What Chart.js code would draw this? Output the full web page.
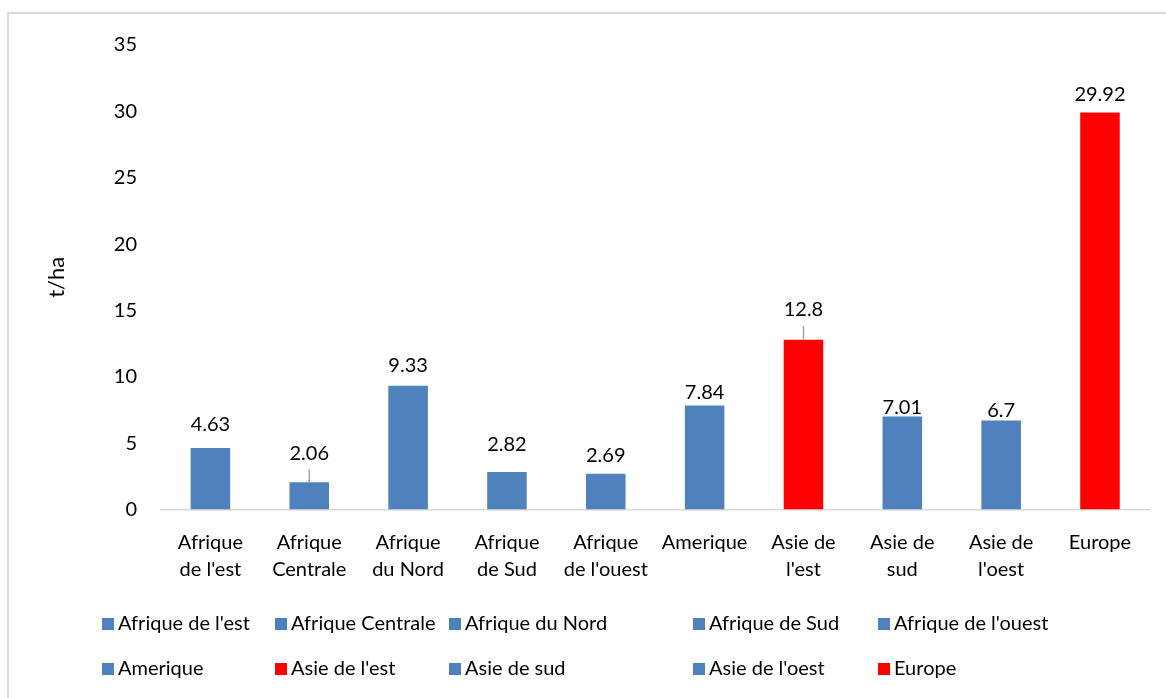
<!DOCTYPE html>
<html>
<head>
<meta charset="utf-8">
<script src="https://cdn.jsdelivr.net/npm/chart.js@4"></script>
<style>
  html, body { margin: 0; padding: 0; background: #fff; }
  #wrap { position: relative; width: 1166px; height: 698px; overflow: hidden; }
  #frame { position: absolute; left: 7px; top: 12px; width: 1200px; height: 720px; border: 2px solid #d9d9d9; }
  canvas { position: absolute; left: 0; top: 0; }
</style>
</head>
<body>
<div id="wrap">
  <div id="frame"></div>
  <canvas id="yieldChart" width="1166" height="698"></canvas>
</div>
<script>
// regions (legend names) and their wrapped axis labels
const regions = ["Afrique de l'est", "Afrique Centrale", "Afrique du Nord", "Afrique de Sud", "Afrique de l'ouest",
                 "Amerique", "Asie de l'est", "Asie de sud", "Asie de l'oest", "Europe"];
const tickLabels = [["Afrique", "de l'est"], ["Afrique", "Centrale"], ["Afrique", "du Nord"], ["Afrique", "de Sud"],
                    ["Afrique", "de l'ouest"], "Amerique", ["Asie de", "l'est"], ["Asie de", "sud"], ["Asie de", "l'oest"], "Europe"];
// yield, t/ha
const yields = [4.63, 2.06, 9.33, 2.82, 2.69, 7.84, 12.8, 7.01, 6.7, 29.92];
const yTicks = [0, 5, 10, 15, 20, 25, 30, 35];

const BLUE = '#4f81bd';
const RED = '#ff0000';
const barColors = regions.map(r => (r === "Asie de l'est" || r === 'Europe') ? RED : BLUE);

// how far (px) each value label sits above its bar, as placed in the original
const labelLift = [23.5, 28.7, 20, 28, 18.7, 12.8, 29.6, 9, 10, 17.5];

const FONT = 'Lato';

// value labels above bars, with leader line when pulled away
const valueLabels = {
    id: 'valueLabels',
    afterDatasetsDraw(chart) {
        const ctx = chart.ctx;
        const meta = chart.getDatasetMeta(0);
        ctx.save();
        ctx.font = '20px ' + FONT;
        ctx.textAlign = 'center';
        ctx.textBaseline = 'middle';
        meta.data.forEach((bar, i) => {
            const ly = bar.y - labelLift[i];
            if (labelLift[i] > 28.5) {
                ctx.strokeStyle = '#a6a6a6';
                ctx.lineWidth = 1.5;
                ctx.beginPath();
                ctx.moveTo(bar.x, ly + 16);
                ctx.lineTo(bar.x, bar.y);
                ctx.stroke();
            }
            ctx.fillStyle = '#000';
            ctx.fillText(String(yields[i]), bar.x, ly);
        });
        ctx.restore();
    }
};

// Excel-like legend: one entry per category, in columns
const gridLegend = {
    id: 'gridLegend',
    afterDraw(chart) {
        const ctx = chart.ctx;
        const cols = [102, 275, 449, 693, 878];
        const rows = [624, 669];
        const colors = chart.data.datasets[0].backgroundColor;
        ctx.save();
        ctx.font = '20px ' + FONT;
        ctx.textAlign = 'left';
        ctx.textBaseline = 'middle';
        chart.data.labels.forEach((name, i) => {
            const x = cols[i % 5];
            const y = rows[Math.floor(i / 5)];
            ctx.fillStyle = colors[i];
            ctx.fillRect(x, y - 6, 12, 12);
            ctx.fillStyle = '#000';
            ctx.fillText(name, x + 16, y);
        });
        ctx.restore();
    }
};

Chart.defaults.font.family = FONT;
Chart.defaults.font.size = 20;
Chart.defaults.color = '#000';

const config = {
    type: 'bar',
    data: {
        labels: regions,
        datasets: [{
            label: 't/ha',
            data: yields,
            backgroundColor: barColors,
            borderWidth: 0,
            categoryPercentage: 1,
            barPercentage: 0.4
        }]
    },
    options: {
        responsive: false,
        animation: false,
        layout: { padding: { left: 0, right: 16.6, top: 45, bottom: 100 } },
        plugins: {
            legend: { display: false },
            tooltip: { enabled: false }
        },
        scales: {
            x: {
                grid: { display: false, drawTicks: false },
                border: { display: true, color: '#d9d9d9', width: 1.5 },
                ticks: {
                    padding: 20,
                    maxRotation: 0,
                    autoSkip: false,
                    font: { size: 20, lineHeight: 1.35 },
                    callback: (v, i) => tickLabels[i]
                },
                afterFit: s => { s.height = 88.5; }
            },
            y: {
                min: 0,
                max: 35,
                grid: { display: false, drawTicks: false },
                border: { display: false },
                afterBuildTicks: s => { s.ticks = yTicks.map(v => ({ value: v })); },
                ticks: { padding: 24, font: { size: 20 } },
                title: { display: true, text: 't/ha', font: { size: 22 }, padding: { top: 44, bottom: 0 } },
                afterFit: s => { s.width = 161; }
            }
        }
    },
    plugins: [valueLabels, gridLegend]
};

const yieldChart = new Chart(document.getElementById('yieldChart'), config);
</script>
</body>
</html>
